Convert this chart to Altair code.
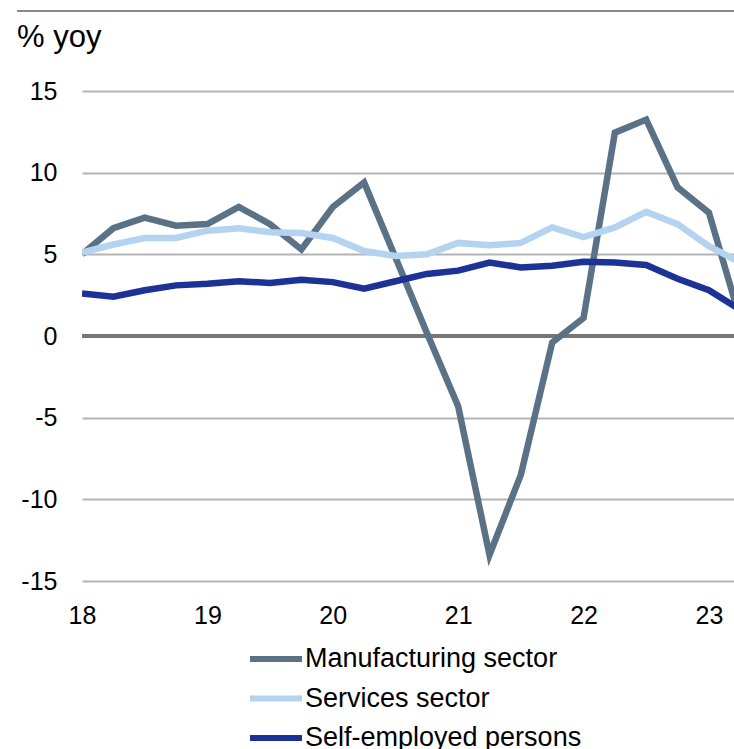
import altair as alt
import pandas as pd

# Quarterly positions (year "18" = 2018 Q1, step of a quarter)
quarters = [18.0, 18.25, 18.5, 18.75, 19.0, 19.25, 19.5, 19.75,
            20.0, 20.25, 20.5, 20.75, 21.0, 21.25, 21.5, 21.75,
            22.0, 22.25, 22.5, 22.75, 23.0, 23.25]

manufacturing = [5.0, 6.6, 7.25, 6.75, 6.85, 7.9, 6.85, 5.3,
                 7.9, 9.4, 4.8, 0.2, -4.3, -13.4, -8.5, -0.4,
                 1.1, 12.45, 13.25, 9.1, 7.55, 1.0]
services = [5.1, 5.6, 6.0, 6.0, 6.45, 6.6, 6.35, 6.3,
            6.0, 5.2, 4.9, 5.0, 5.7, 5.55, 5.7, 6.65,
            6.05, 6.65, 7.6, 6.85, 5.5, 4.5]
self_employed = [2.6, 2.4, 2.8, 3.1, 3.2, 3.35, 3.25, 3.45,
                 3.3, 2.9, 3.35, 3.8, 4.0, 4.5, 4.2, 4.3,
                 4.55, 4.5, 4.35, 3.5, 2.8, 1.6]

series_names = ["Manufacturing sector", "Services sector", "Self-employed persons"]
series_colors = ["#5B7186", "#B4D3F1", "#1C3296"]
y_ticks = [-15, -10, -5, 0, 5, 10, 15]
x_ticks = [18, 19, 20, 21, 22, 23]

FONT = "Liberation Sans, Arial, sans-serif"

rows = []
for name, vals in zip(series_names, [manufacturing, services, self_employed]):
    for q, v in zip(quarters, vals):
        rows.append({"q": q, "value": v, "series": name})
df = pd.DataFrame(rows)

x_enc = alt.X("q:Q",
              scale=alt.Scale(domain=[18, 23.2], nice=False, zero=False),
              axis=alt.Axis(values=x_ticks, labelExpr="'' + datum.value",
                            grid=False, domain=False, ticks=False, tickSize=0,
                            labelPadding=22, labelFontSize=25, labelFont=FONT,
                            labelColor="#000000", title=None, labelFlush=False,
                            labelOverlap=False))
y_enc = alt.Y("value:Q",
              scale=alt.Scale(domain=[-15, 15], nice=False, zero=False),
              axis=alt.Axis(values=y_ticks, labelExpr="'' + datum.value",
                            grid=True, gridColor="#b4b4b4", gridWidth=2,
                            domain=False, ticks=False, tickSize=0,
                            labelPadding=25, labelFontSize=25, labelFont=FONT,
                            labelColor="#000000", title=None))
color_enc = alt.Color("series:N",
                      scale=alt.Scale(domain=series_names, range=series_colors),
                      legend=alt.Legend(orient="none", legendX=165, legendY=555,
                                        direction="vertical", title=None,
                                        symbolType="stroke", symbolSize=2704,
                                        symbolStrokeWidth=6, clipHeight=26,
                                        labelFontSize=27, labelFont=FONT,
                                        labelColor="#000000", labelOffset=0,
                                        rowPadding=12.5, labelLimit=400))

base = alt.Chart(df)

zero_rule = alt.Chart(pd.DataFrame({"value": [0]})).mark_rule(
    color="#767676", strokeWidth=4).encode(y=alt.Y("value:Q"))

lines = []
for name in series_names:
    lines.append(
        base.transform_filter(alt.datum.series == name)
        .mark_line(strokeWidth=6.5, clip=True)
        .encode(x=x_enc, y=y_enc, color=color_enc)
    )

unit_title = alt.Chart(pd.DataFrame({"t": ["% yoy"]})).mark_text(
    align="left", baseline="alphabetic", fontSize=31, font=FONT, color="#000000"
).encode(x=alt.value(-65), y=alt.value(-44), text="t:N")

top_rule = alt.Chart(pd.DataFrame({"a": [0]})).mark_rule(
    color="#8a8a8a", strokeWidth=2
).encode(x=alt.value(-65), x2=alt.value(652), y=alt.value(-80))

chart = alt.layer(zero_rule, *lines, unit_title, top_rule).properties(
    width=652, height=490,
    padding={"left": 82, "top": 91, "right": 0, "bottom": 168},
    autosize=alt.AutoSizeParams(type="none"),
    background="#ffffff",
).configure_view(stroke=None)

chart.save("out.html", embed_options={"renderer": "svg", "actions": False})
